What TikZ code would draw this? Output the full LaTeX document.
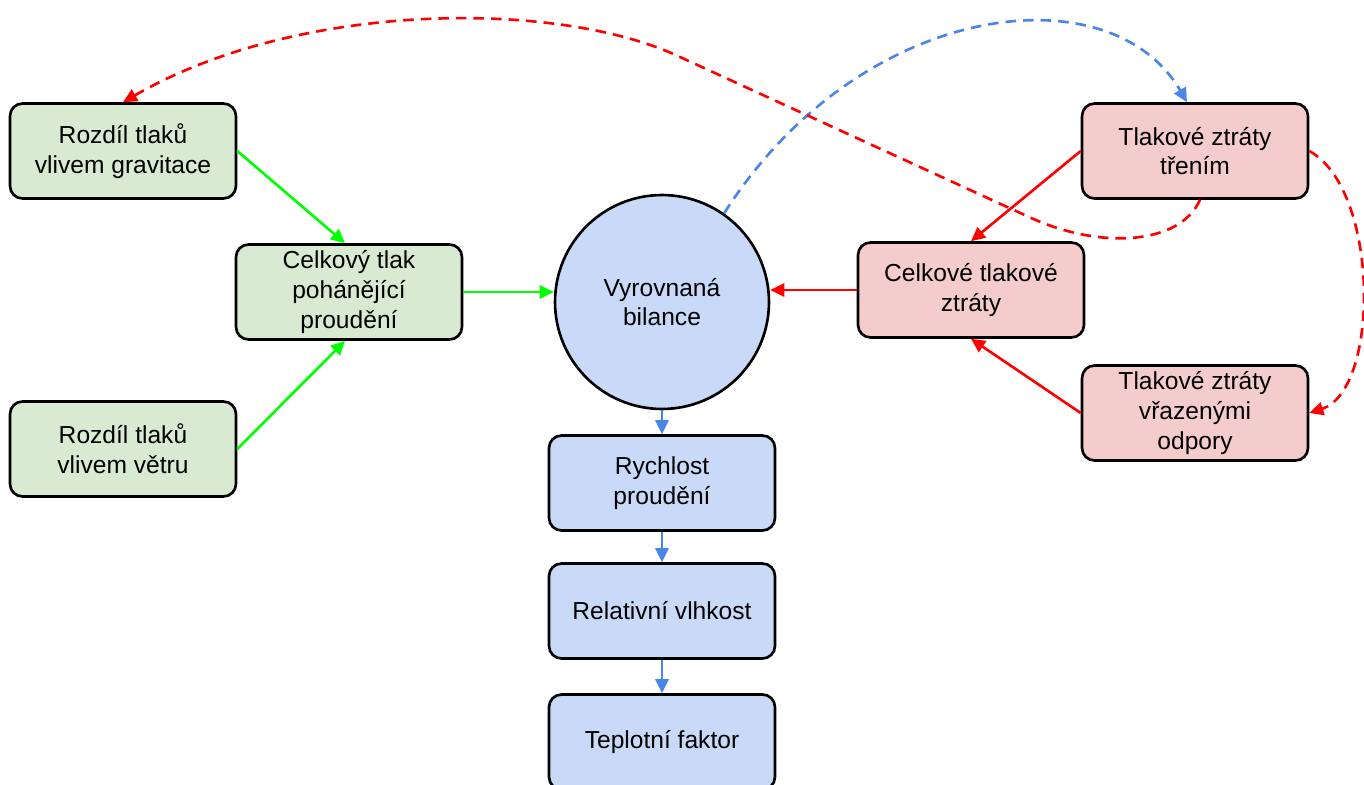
\documentclass[tikz,border=0pt]{standalone}
\usepackage{fontspec}
\setmainfont{Liberation Sans}
\usetikzlibrary{arrows.meta}

\definecolor{greenfill}{HTML}{D9EAD3}
\definecolor{redfill}{HTML}{F4CCCC}
\definecolor{bluefill}{HTML}{C9DAF8}
\definecolor{greenline}{HTML}{00FF00}
\definecolor{redline}{HTML}{FF0000}
\definecolor{blueline}{HTML}{4A86E8}

\tikzset{
  box/.style={draw, line width=1.5pt, rounded corners=0.25cm, minimum width=4.52cm,
    minimum height=1.9cm, align=center, font=\fontsize{14}{17}\selectfont},
  greenbox/.style={box, fill=greenfill},
  redbox/.style={box, fill=redfill},
  bluebox/.style={box, fill=bluefill},
  tip/.style={arrows=-{Triangle[length=8pt, width=7.5pt]}, line width=1.5pt},
  greenarrow/.style={tip, color=greenline},
  redarrow/.style={tip, color=redline},
  bluearrow/.style={tip, color=blueline},
  dashline/.style={dash pattern=on 6pt off 4pt}
}

\begin{document}
\begin{tikzpicture}[x=0.02cm, y=-0.02cm]
\useasboundingbox (0,0) rectangle (1364,784);
\node  (grav)[greenbox] at (123,151) {Rozdíl tlaků\\vlivem gravitace};
\node  (drive)[greenbox] at (349,292) {Celkový tlak\\pohánějící\\proudění};
\node  (wind)[greenbox] at (123,449) {Rozdíl tlaků\\vlivem větru};
\node  (bal)[draw, circle, line width=1.5pt, fill=bluefill, minimum size=4.28cm, align=center,
  font=\fontsize{14}{17}\selectfont] at (662,302) {Vyrovnaná\\bilance};
\node  (speed)[bluebox] at (662,483) {Rychlost\\proudění};
\node  (humid)[bluebox] at (662,611) {Relativní vlhkost};
\node  (temp)[bluebox] at (662,742) {Teplotní faktor};
\node  (frict)[redbox] at (1195,151) {Tlakové ztráty\\třením};
\node  (total)[redbox] at (971,290) {Celkové tlakové\\ztráty};
\node  (local)[redbox] at (1195,413) {Tlakové ztráty\\vřazenými\\odpory};
\draw[greenarrow] (grav.east) -- ([xshift=-0.08cm]drive.north);
\draw[greenarrow] (wind.east) -- ([xshift=-0.08cm]drive.south);
\draw[greenarrow] (drive.east) -- (drive.east -| bal.west);
\draw[redarrow] (frict.west) -- (total.north);
\draw[redarrow] (local.west) -- (total.south);
\draw[redarrow] (total.west) -- (total.west -| bal.east);
\draw[bluearrow] (bal.south) -- (speed.north);
\draw[bluearrow] (speed.south) -- (humid.north);
\draw[bluearrow] (humid.south) -- (temp.north);
\draw[bluearrow, dashline] (bal.55) .. controls (860,0) and (1110,-30) .. ([xshift=-0.16cm]frict.north);
\draw[redarrow, dashline] ([xshift=0.1cm]frict.south) .. controls (1180,245) and (1100,250) .. (1029,217)
  -- (680,57) .. controls (560,0) and (300,0) .. (grav.north);
\draw[redarrow, dashline] (frict.east) .. controls (1380,190) and (1380,390) .. (local.east);
\end{tikzpicture}
\end{document}
